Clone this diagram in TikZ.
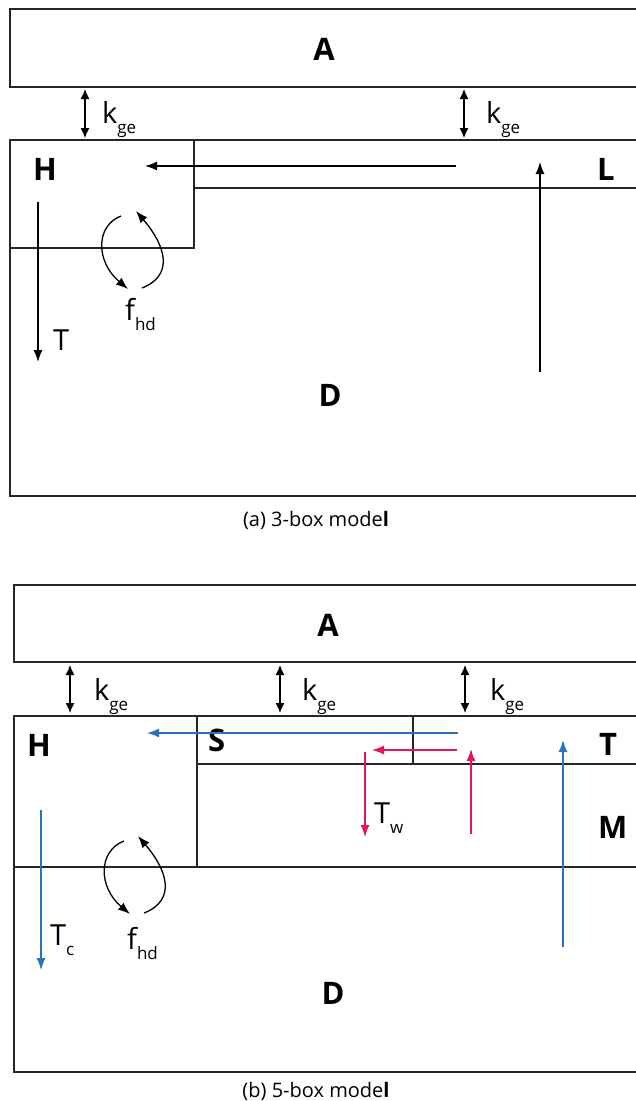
\documentclass[tikz,border=0pt]{standalone}
\usepackage{fontspec}
\setmainfont{Open Sans}
\usetikzlibrary{arrows.meta}
\definecolor{oblue}{RGB}{40,117,188}
\definecolor{ored}{RGB}{230,20,90}
\newcommand{\subl}[3]{{\fontsize{#1}{#1}\selectfont #2}\raisebox{-10pt}{\fontsize{17}{17}\selectfont #3}}
\tikzset{
  boxline/.style={draw=black!85, line width=1.4pt},
  lbl/.style={inner sep=0pt, font=\bfseries\fontsize{31}{31}\selectfont},
  sym/.style={inner sep=0pt, anchor=base west},
  captext/.style={inner sep=0pt, anchor=base, font=\fontsize{20}{20}\selectfont},
  flow/.style={-{Latex[length=12pt,width=9pt]}, line width=1.3pt},
  exch/.style={{Latex[length=10pt,width=9pt]}-{Latex[length=10pt,width=9pt]}, line width=1.3pt},
}
\begin{document}
\begin{tikzpicture}[x=1pt,y=-1pt]
\clip (0,0) rectangle (636,1101);
\fill[white] (0,0) rectangle (636,1101);

% ===== (a) 3-box model =====
\draw[boxline] (660,9) -- (10,9) -- (10,87) -- (660,87);
\draw[boxline] (660,140) -- (10,140) -- (10,496) -- (660,496);
\draw[boxline] (10,248) -- (194,248) -- (194,140);
\draw[boxline] (194,188) -- (660,188);

\node[lbl, anchor=base] (aA) at (324,60) {A};
\node[lbl, anchor=base west] (aH) at (33,180) {H};
\node[lbl, anchor=base west] (aL) at (597,180) {L};
\node[lbl, anchor=base] (aD) at (330,406) {D};

\coordinate (ak1t) at (85,89); \coordinate (ak1b) at (85,138);
\coordinate (ak2t) at (464,89); \coordinate (ak2b) at (464,138);
\draw[exch] (ak1t) -- (ak1b);
\draw[exch] (ak2t) -- (ak2b);
\node[sym] (akl1) at (102,123) {\subl{29}{k}{ge}};
\node[sym] (akl2) at (486,123) {\subl{29}{k}{ge}};

\coordinate (ahs) at (456,166); \coordinate (ahe) at (145,166);
\draw[flow] (ahs) -- (ahe);
\coordinate (ats) at (38,202); \coordinate (ate) at (38,362);
\draw[flow] (ats) -- (ate);
\node[sym] (aT) at (53,350) {\fontsize{29}{29}\selectfont T};
\coordinate (aus) at (540,372); \coordinate (aue) at (540,162);
\draw[flow] (aus) -- (aue);

\coordinate (ac1s) at (121,216); \coordinate (ac1e) at (128,289);
\coordinate (ac2s) at (142,288); \coordinate (ac2e) at (136,211);
\draw[flow] (ac1s) .. controls (95,226) and (96,262) .. (ac1e);
\draw[flow] (ac2s) .. controls (175,275) and (165,245) .. (ac2e);
\node[sym] (afhd) at (125,320) {\subl{29}{f}{hd}};

\node[captext] (capa) at (316,526) {(a) 3-box mode\textbf{l}};

% ===== (b) 5-box model =====
\draw[boxline] (660,585) -- (14,585) -- (14,662) -- (660,662);
\draw[boxline] (660,716) -- (14,716) -- (14,1072) -- (660,1072);
\draw[boxline] (14,867) -- (660,867);
\draw[boxline] (197,716) -- (197,867);
\draw[boxline] (197,764) -- (660,764);
\draw[boxline] (413,716) -- (413,764);

\node[lbl, anchor=base] (bA) at (328,636) {A};
\node[lbl, anchor=base west] (bH) at (27,756) {H};
\node[lbl, anchor=base west] (bS) at (208,751) {S};
\node[lbl, anchor=base west] (bT) at (599,755) {T};
\node[lbl, anchor=base west] (bM) at (598,838) {M};
\node[lbl, anchor=base] (bD) at (333,1004) {D};

\coordinate (bk1t) at (70,665); \coordinate (bk1b) at (70,713);
\coordinate (bk2t) at (280,665); \coordinate (bk2b) at (280,713);
\coordinate (bk3t) at (465,665); \coordinate (bk3b) at (465,713);
\draw[exch] (bk1t) -- (bk1b);
\draw[exch] (bk2t) -- (bk2b);
\draw[exch] (bk3t) -- (bk3b);
\node[sym] (bkl1) at (94,700) {\subl{29}{k}{ge}};
\node[sym] (bkl2) at (302,700) {\subl{29}{k}{ge}};
\node[sym] (bkl3) at (490,700) {\subl{29}{k}{ge}};

% blue circulation
\coordinate (bbs) at (458,733); \coordinate (bbe) at (147,733);
\draw[flow, oblue] (bbs) -- (bbe);
\coordinate (bcs) at (41,810); \coordinate (bce) at (41,970);
\draw[flow, oblue] (bcs) -- (bce);
\node[sym] (bTc) at (50,945) {\subl{29}{T}{c}};
\coordinate (bus) at (563,947); \coordinate (bue) at (563,740);
\draw[flow, ored!0!oblue] (bus) -- (bue);

% red circulation
\coordinate (brs) at (457,750); \coordinate (bre) at (372,750);
\draw[flow, ored] (brs) -- (bre);
\coordinate (brds) at (365,752); \coordinate (brde) at (365,837);
\draw[flow, ored] (brds) -- (brde);
\node[sym] (bTw) at (374,823) {\subl{29}{T}{w}};
\coordinate (brus) at (471,834); \coordinate (brue) at (471,749);
\draw[flow, ored] (brus) -- (brue);

\coordinate (bc1s) at (124,841); \coordinate (bc1e) at (130,914);
\coordinate (bc2s) at (144,913); \coordinate (bc2e) at (138,836);
\draw[flow] (bc1s) .. controls (98,851) and (98,887) .. (bc1e);
\draw[flow] (bc2s) .. controls (177,900) and (167,870) .. (bc2e);
\node[sym] (bfhd) at (127,949) {\subl{29}{f}{hd}};

\node[captext] (capb) at (316,1097) {(b) 5-box mode\textbf{l}};
\end{tikzpicture}
\end{document}
